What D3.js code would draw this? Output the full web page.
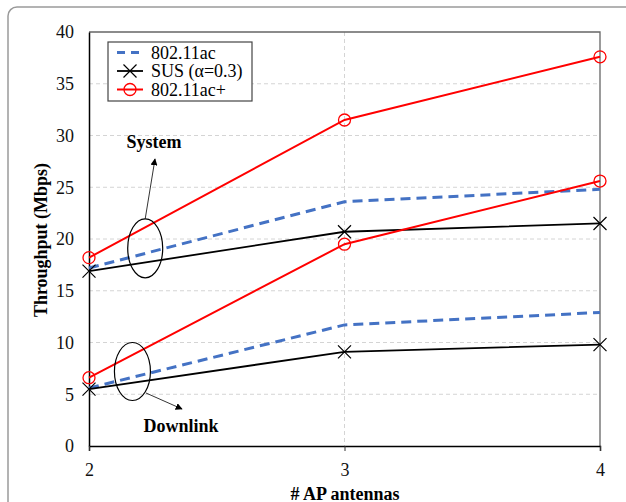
<!DOCTYPE html>
<html>
<head>
<meta charset="utf-8">
<script src="https://cdn.jsdelivr.net/npm/d3@7"></script>
<style>
  body { margin: 0; background: #fff; }
  svg { display: block; }
  text { font-family: "Liberation Serif", "Times New Roman", serif; }
</style>
</head>
<body>
<div id="my_dataviz"></div>
<script>
// chart data
var antennas = [2, 3, 4]
var yTicks = [0, 5, 10, 15, 20, 25, 30, 35, 40]

// system throughput
var sysAc     = [17.2, 23.6, 24.8]
var sysSus    = [16.9, 20.7, 21.5]
var sysAcPlus = [18.2, 31.5, 37.6]

// downlink throughput
var dlAc     = [5.6, 11.7, 12.9]
var dlSus    = [5.5, 9.1, 9.8]
var dlAcPlus = [6.6, 19.5, 25.6]

var legendNames = ["802.11ac", "SUS (\u03b1=0.3)", "802.11ac+"]

// dimensions
var width = 626,
    height = 502

var svg = d3.select("#my_dataviz")
  .append("svg")
    .attr("width", width)
    .attr("height", height)

// outer rounded frame
svg.append("rect")
  .attr("x", 8).attr("y", 7)
  .attr("width", 640).attr("height", 520)
  .attr("rx", 9)
  .attr("fill", "none")
  .attr("stroke", "#9a9a9a")
  .attr("stroke-width", 1.5)

var x = d3.scaleLinear().domain([2, 4]).range([89, 600])
var y = d3.scaleLinear().domain([0, 40]).range([446, 32])

// grid lines
svg.append("g")
  .selectAll("line")
  .data(yTicks.filter(function(d){ return d > 0 && d < 40 }))
  .enter().append("line")
    .attr("x1", x(2)).attr("x2", x(4))
    .attr("y1", function(d){ return y(d) }).attr("y2", function(d){ return y(d) })
    .attr("stroke", "#d4d4d4")
    .attr("stroke-dasharray", "4,3")

svg.append("line")
  .attr("x1", x(3)).attr("x2", x(3))
  .attr("y1", y(40)).attr("y2", y(0))
  .attr("stroke", "#d4d4d4")
  .attr("stroke-dasharray", "4,3")

// top and right border
svg.append("path")
  .attr("d", "M" + x(2) + "," + y(40) + "H" + x(4) + "V" + y(0))
  .attr("fill", "none")
  .attr("stroke", "#666")
  .attr("stroke-width", 1.3)

// axes
var yAxis = svg.append("g")
  .attr("transform", "translate(" + x(2) + ",0)")
  .call(d3.axisLeft(y).tickValues(yTicks).tickSize(0).tickPadding(15))
yAxis.select(".domain").attr("stroke", "#000").attr("stroke-width", 1.5)
yAxis.selectAll("text").attr("font-size", 18).attr("font-family", "Liberation Serif").attr("fill", "#111")

var xAxis = svg.append("g")
  .attr("transform", "translate(0," + y(0) + ")")
  .call(d3.axisBottom(x).tickValues(antennas).tickFormat(d3.format("d")).tickSize(5).tickPadding(12))
xAxis.select(".domain").attr("stroke", "#000").attr("stroke-width", 1.5)
xAxis.selectAll("line").attr("stroke", "#333")
xAxis.selectAll("text").attr("font-size", 18).attr("font-family", "Liberation Serif").attr("fill", "#111")

// axis titles
svg.append("text")
  .attr("x", 345).attr("y", 500)
  .attr("text-anchor", "middle")
  .attr("font-size", 18).attr("font-weight", "bold")
  .text("# AP antennas")

svg.append("text")
  .attr("transform", "translate(47,240) rotate(-90)")
  .attr("text-anchor", "middle")
  .attr("font-size", 18).attr("font-weight", "bold")
  .text("Throughput (Mbps)")

// series
var styles = [
  { color: "#4472c4", width: 3, dash: "10,6", marker: "none" },
  { color: "#000000", width: 1.8, dash: null, marker: "x" },
  { color: "#ff0000", width: 2, dash: null, marker: "o" }
]
var series = [
  { values: sysAc, style: 0 }, { values: dlAc, style: 0 },
  { values: sysSus, style: 1 }, { values: dlSus, style: 1 },
  { values: sysAcPlus, style: 2 }, { values: dlAcPlus, style: 2 }
]

var line = d3.line()
  .x(function(d, i){ return x(antennas[i]) })
  .y(function(d){ return y(d) })

function drawMarker(g, type, cx, cy, color) {
  if (type === "o") {
    g.append("circle").attr("cx", cx).attr("cy", cy).attr("r", 6)
      .attr("fill", "none").attr("stroke", color).attr("stroke-width", 1.3)
  } else if (type === "x") {
    var s = 6.5
    g.append("path")
      .attr("d", "M" + (cx - s) + "," + (cy - s) + "L" + (cx + s) + "," + (cy + s) +
                 "M" + (cx - s) + "," + (cy + s) + "L" + (cx + s) + "," + (cy - s))
      .attr("stroke", color).attr("stroke-width", 1.2)
  }
}

series.forEach(function(s) {
  var st = styles[s.style]
  svg.append("path")
    .datum(s.values)
    .attr("d", line)
    .attr("fill", "none")
    .attr("stroke", st.color)
    .attr("stroke-width", st.width)
    .attr("stroke-dasharray", st.dash)
  var g = svg.append("g")
  s.values.forEach(function(v, i) {
    drawMarker(g, st.marker, x(antennas[i]), y(v), st.color)
  })
})

// legend
var legend = svg.append("g")
legend.append("rect")
  .attr("x", 108).attr("y", 42).attr("width", 144).attr("height", 59)
  .attr("fill", "#fff").attr("stroke", "#444").attr("stroke-width", 1.2)

legendNames.forEach(function(name, i) {
  var st = styles[i]
  var ly = 52.5 + i * 18.5
  legend.append("line")
    .attr("x1", 117).attr("x2", 143).attr("y1", ly).attr("y2", ly)
    .attr("stroke", st.color).attr("stroke-width", st.width)
    .attr("stroke-dasharray", st.dash ? "8,6" : null)
  drawMarker(legend, st.marker, 130, ly, st.color)
  legend.append("text")
    .attr("x", 151).attr("y", ly + 6)
    .attr("font-size", 18)
    .text(name)
})

// annotations
var defs = svg.append("defs")
defs.append("marker")
  .attr("id", "arrow")
  .attr("viewBox", "0 0 10 10")
  .attr("refX", 9).attr("refY", 5)
  .attr("markerWidth", 7).attr("markerHeight", 7)
  .attr("markerUnits", "userSpaceOnUse")
  .attr("orient", "auto")
  .append("path").attr("d", "M0,0L10,5L0,10Z").attr("fill", "#000")

svg.append("ellipse")
  .attr("cx", x(2.22)).attr("cy", y(19.1)).attr("rx", 17.5).attr("ry", 29.5)
  .attr("fill", "none").attr("stroke", "#000").attr("stroke-width", 1.2)
svg.append("line")
  .attr("x1", x(2.22)).attr("y1", y(19.1) - 29.5)
  .attr("x2", 155).attr("y2", 159)
  .attr("stroke", "#000").attr("stroke-width", 0.8)
  .attr("marker-end", "url(#arrow)")
svg.append("text")
  .attr("x", 154).attr("y", 148)
  .attr("text-anchor", "middle")
  .attr("font-size", 18).attr("font-weight", "bold")
  .text("System")

svg.append("ellipse")
  .attr("cx", x(2.17)).attr("cy", y(7.2)).attr("rx", 18).attr("ry", 29)
  .attr("fill", "none").attr("stroke", "#000").attr("stroke-width", 1.2)
svg.append("line")
  .attr("x1", 146).attr("y1", 393)
  .attr("x2", 182).attr("y2", 409)
  .attr("stroke", "#000").attr("stroke-width", 0.8)
  .attr("marker-end", "url(#arrow)")
svg.append("text")
  .attr("x", 181).attr("y", 432)
  .attr("text-anchor", "middle")
  .attr("font-size", 18).attr("font-weight", "bold")
  .text("Downlink")
</script>
</body>
</html>
